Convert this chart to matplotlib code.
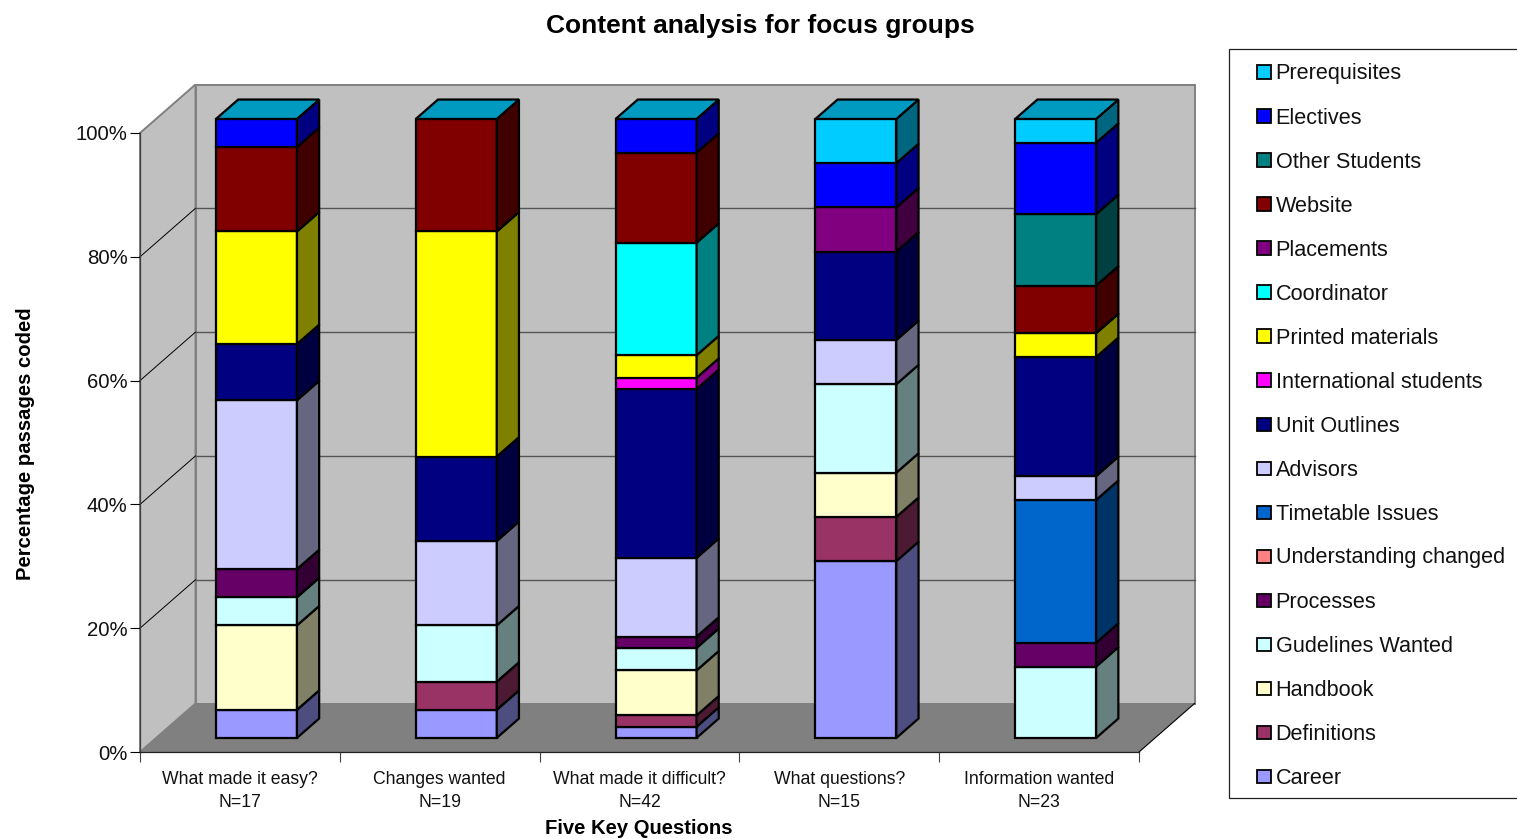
import numpy as np
import matplotlib
matplotlib.use('Agg')
import matplotlib.pyplot as plt
from matplotlib.colors import to_rgb
from matplotlib.patches import Polygon, Rectangle

plt.rcParams['font.family'] = ['Liberation Sans', 'DejaVu Sans']

questions = ['What made it easy?\nN=17', 'Changes wanted\nN=19', 'What made it difficult?\nN=42',
             'What questions?\nN=15', 'Information wanted\nN=23']

# passages coded per question, bottom of the stack first
career = [1, 1, 1, 4, 0]
definitions = [0, 1, 1, 1, 0]
handbook = [3, 0, 4, 1, 0]
guidelines = [1, 2, 2, 2, 3]
processes = [1, 0, 1, 0, 1]
understanding = [0, 0, 0, 0, 0]
timetable = [0, 0, 0, 0, 6]
advisors = [6, 3, 7, 1, 1]
unit_outlines = [2, 3, 15, 2, 5]
international = [0, 0, 1, 0, 0]
printed = [4, 8, 2, 0, 1]
coordinator = [0, 0, 10, 0, 0]
placements = [0, 0, 0, 1, 0]
website = [3, 4, 8, 0, 2]
other_students = [0, 0, 0, 0, 3]
electives = [1, 0, 3, 1, 3]
prerequisites = [0, 0, 0, 1, 1]

series = [
    ('Career', career, '#9999FF'),
    ('Definitions', definitions, '#993366'),
    ('Handbook', handbook, '#FFFFCC'),
    ('Gudelines Wanted', guidelines, '#CCFFFF'),
    ('Processes', processes, '#660066'),
    ('Understanding changed', understanding, '#FF8080'),
    ('Timetable Issues', timetable, '#0066CC'),
    ('Advisors', advisors, '#CCCCFF'),
    ('Unit Outlines', unit_outlines, '#000080'),
    ('International students', international, '#FF00FF'),
    ('Printed materials', printed, '#FFFF00'),
    ('Coordinator', coordinator, '#00FFFF'),
    ('Placements', placements, '#800080'),
    ('Website', website, '#800000'),
    ('Other Students', other_students, '#008080'),
    ('Electives', electives, '#0000FF'),
    ('Prerequisites', prerequisites, '#00CCFF'),
]

W, H = 1517, 839
fig = plt.figure(figsize=(W / 100, H / 100), dpi=100)
ax = fig.add_axes([140 / W, (H - 752) / H, 999 / W, 619 / H])
ax.set_xlim(0, 5)
ax.set_ylim(0, 100)
ax.patch.set_visible(False)

# how far the back wall sits from the front plane, in data units
DEPTH_X = 55.5 / 999 * 5
DEPTH_Y = 48.5 / 619 * 100
BAR_W = 0.405
BAR_FRONT = 0.29
BAR_BACK = 0.69


def shift(x, y, d):
    return x + d * DEPTH_X, y + d * DEPTH_Y


def poly(pts, color, edge='none', lw=0, z=1):
    ax.add_patch(Polygon(pts, closed=True, facecolor=color, edgecolor=edge, linewidth=lw,
                         zorder=z, clip_on=False, joinstyle='miter'))


# walls and floor
poly([shift(0, 0, 0), shift(0, 0, 1), shift(0, 100, 1), shift(0, 100, 0)], '#C0C0C0', '#808080', 1.4)
poly([shift(0, 0, 1), shift(5, 0, 1), shift(5, 100, 1), shift(0, 100, 1)], '#C0C0C0', '#808080', 1.4)
poly([shift(0, 0, 0), shift(5, 0, 0), shift(5, 0, 1), shift(0, 0, 1)], '#808080', z=1.1)
ax.plot(*zip(shift(5, 0, 0), shift(5, 0, 1)), color='black', lw=0.8, zorder=1.2, clip_on=False)

# gridlines run along the side wall then across the back
for tick in [20, 40, 60, 80]:
    ax.plot(*zip(shift(0, tick, 0), shift(0, tick, 1)), color='black', lw=0.7, zorder=1.2, clip_on=False)
    ax.plot(*zip(shift(0, tick, 1), shift(5, tick, 1)), color='#555555', lw=1.0, zorder=1.2, clip_on=False)

LW = 1.6
for i in range(len(questions)):
    total = sum(s[1][i] for s in series)
    left = i + 0.5 - BAR_W / 2 + 0.0025
    right = left + BAR_W
    bottom = 0
    for name, vals, color in series:
        if vals[i] == 0:
            continue
        top = bottom + vals[i] / total * 100
        poly([shift(left, bottom, BAR_FRONT), shift(right, bottom, BAR_FRONT),
              shift(right, top, BAR_FRONT), shift(left, top, BAR_FRONT)], color, 'black', LW, z=3)
        dark = tuple(c * 0.5 for c in to_rgb(color))
        poly([shift(right, bottom, BAR_FRONT), shift(right, bottom, BAR_BACK),
              shift(right, top, BAR_BACK), shift(right, top, BAR_FRONT)], dark, 'black', LW, z=3)
        bottom = top
    # the top face takes the colour of the last series in the stack
    cap = tuple(c * 0.75 for c in to_rgb(series[-1][2]))
    poly([shift(left, 100, BAR_FRONT), shift(right, 100, BAR_FRONT),
          shift(right, 100, BAR_BACK), shift(left, 100, BAR_BACK)], cap, 'black', LW, z=3)

# axes
for side in ['top', 'right']:
    ax.spines[side].set_visible(False)
ax.spines['left'].set_color('#404040')
ax.spines['bottom'].set_color('#202020')
ax.spines['left'].set_linewidth(0.9)
ax.spines['bottom'].set_linewidth(0.9)
ax.set_xticks(np.arange(len(questions) + 1))
ax.set_xticklabels([])
ax.set_xticks(np.arange(len(questions)) + 0.5, minor=True)
ax.set_xticklabels(questions, minor=True, fontsize=12.7, color='#111111', linespacing=1.5)
ax.tick_params(axis='x', which='major', length=7.5, width=0.8, color='#404040')
ax.tick_params(axis='x', which='minor', length=0, pad=13.5)
ax.set_yticks([0, 20, 40, 60, 80, 100])
ax.set_yticklabels(['0%', '20%', '40%', '60%', '80%', '100%'], fontsize=14.7, color='#111111')
ax.tick_params(axis='y', length=7, width=0.8, pad=2)

fig.text(760 / W, 1 - 26 / H, 'Content analysis for focus groups', fontsize=19, fontweight='bold',
         ha='center', va='center')
fig.text(639 / W, 1 - 829 / H, 'Five Key Questions', fontsize=14.55, fontweight='bold', ha='center', va='center')
fig.text(25.5 / W, 1 - 443.5 / H, 'Percentage passages coded', fontsize=14.55, fontweight='bold', rotation=90,
         ha='center', va='center')

# legend box runs off the right edge, so it is drawn by hand in figure coordinates
fig.add_artist(Rectangle((1229 / W, 1 - 797.5 / H), 300 / W, 748.5 / H, transform=fig.transFigure,
                         facecolor='white', edgecolor='#222222', linewidth=0.9))
for k, (name, vals, color) in enumerate(reversed(series)):
    y = 72.5 + k * 44
    fig.add_artist(Rectangle((1257 / W, 1 - (y + 6.5) / H), 13.5 / W, 13.5 / H, transform=fig.transFigure,
                             facecolor=color, edgecolor='black', linewidth=1.3))
    fig.text(1275.5 / W, 1 - (y + 1.5) / H, name, fontsize=15.6, color='#111111', ha='left', va='center')

fig.savefig('out.png', dpi=100)
